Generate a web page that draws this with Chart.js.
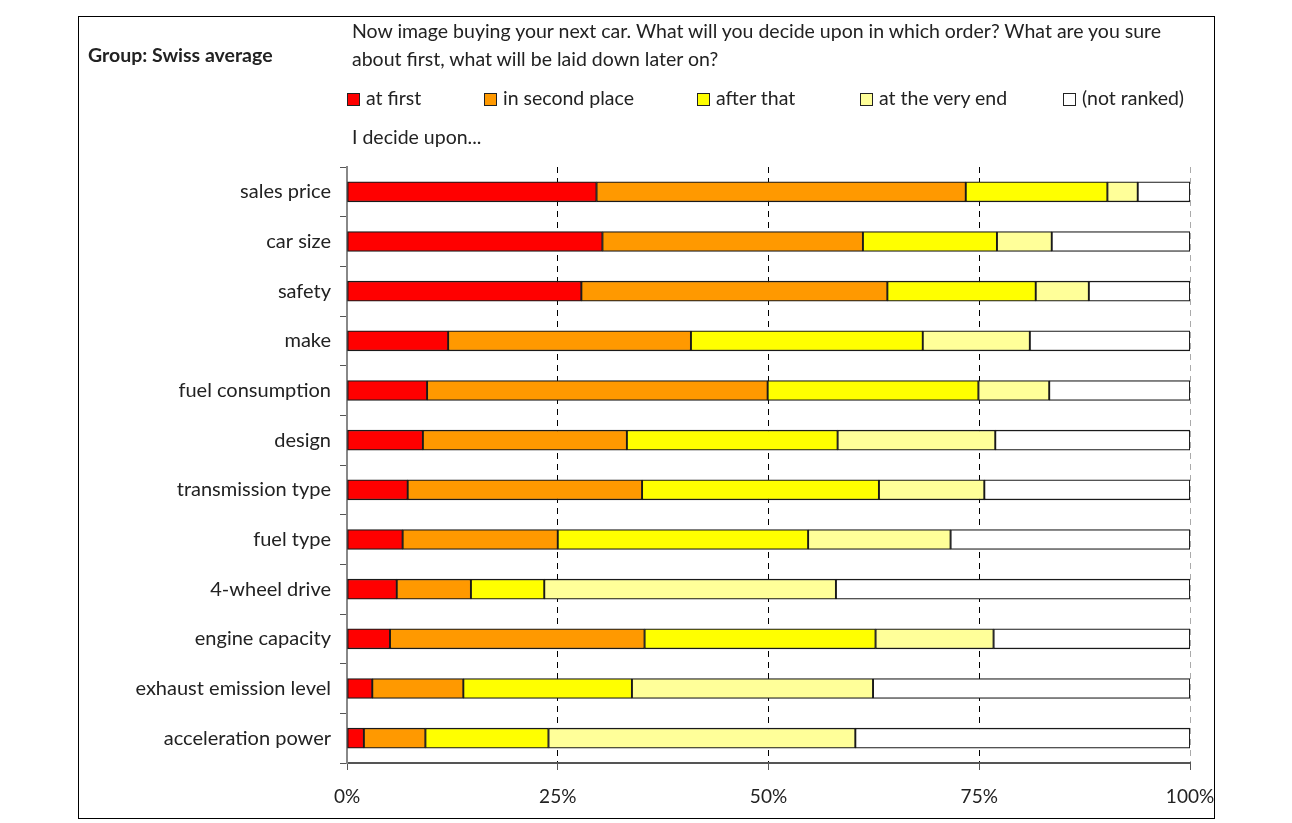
<!DOCTYPE html>
<html>
<head>
<meta charset="utf-8">
<script src="https://cdn.jsdelivr.net/npm/chart.js@4"></script>
<style>
    body { margin: 0; background: #fff; font-family: Lato, sans-serif; color: #222; }
    #frame { position: absolute; left: 78px; top: 16px; width: 1135px; height: 801px; border: 1px solid #000; }
    #chart { position: absolute; left: 0; top: 0; }
    .txt { position: absolute; font-size: 19.5px; line-height: 28px; white-space: nowrap; }
    #group { left: 88px; top: 41px; font-weight: bold; }
    #question { left: 352px; top: 17px; }
    #decide { left: 352px; top: 123px; }
    .leg { position: absolute; top: 84px; font-size: 19.5px; line-height: 28px; white-space: nowrap; }
    .leg span { display: inline-block; width: 11px; height: 11px; border: 1px solid #222; margin-right: 6px; vertical-align: -1px; }
</style>
</head>
<body>
<div id="frame"></div>
<canvas id="chart" width="1292" height="823"></canvas>
<div class="txt" id="group">Group: Swiss average</div>
<div class="txt" id="question">Now image buying your next car. What will you decide upon in which order? What are you sure<br>about first, what will be laid down later on?</div>
<div class="txt" id="decide">I decide upon...</div>
<div id="legend"></div>
<script>
    // valeurs (en %)
    var categories = ['sales price', 'car size', 'safety', 'make', 'fuel consumption', 'design',
        'transmission type', 'fuel type', '4-wheel drive', 'engine capacity', 'exhaust emission level', 'acceleration power'];
    var atFirst = [29.6, 30.3, 27.8, 12.0, 9.5, 9.0, 7.2, 6.6, 5.9, 5.1, 3.0, 2.0];
    var secondPlace = [43.8, 30.9, 36.3, 28.8, 40.4, 24.2, 27.8, 18.4, 8.8, 30.2, 10.8, 7.3];
    var afterThat = [16.8, 15.9, 17.6, 27.5, 25.0, 25.0, 28.1, 29.7, 8.7, 27.4, 20.0, 14.6];
    var veryEnd = [3.6, 6.5, 6.3, 12.7, 8.4, 18.7, 12.5, 16.9, 34.6, 14.0, 28.6, 36.4];
    var notRanked = [6.2, 16.4, 12.0, 19.0, 16.7, 23.1, 24.4, 28.4, 42.0, 23.3, 37.6, 39.7];
    var seriesNames = ['at first', 'in second place', 'after that', 'at the very end', '(not ranked)'];
    var xTicks = [0, 25, 50, 75, 100];

    var colors = ['#ff0000', '#ff9900', '#ffff00', '#ffff99', '#ffffff'];
    var legendLeft = [347, 484, 697, 860, 1063];

    var series = [atFirst, secondPlace, afterThat, veryEnd, notRanked];
    var datasets = series.map(function (values, i) {
        return {
            label: seriesNames[i],
            data: values,
            backgroundColor: colors[i],
            borderColor: '#1a1a1a',
            borderWidth: 1.3,
            borderSkipped: false,
            barThickness: 20
        };
    });

    // légende en HTML, placée comme dans l'original
    var legend = document.getElementById('legend');
    seriesNames.forEach(function (name, i) {
        var item = document.createElement('div');
        item.className = 'leg';
        item.style.left = legendLeft[i] + 'px';
        item.innerHTML = '<span style="background:' + colors[i] + '"></span>' + name;
        legend.appendChild(item);
    });

    new Chart('chart', {
        type: 'bar',
        data: { labels: categories, datasets: datasets },
        options: {
            indexAxis: 'y',
            responsive: false,
            animation: false,
            layout: { padding: { left: 0, top: 167, right: 102, bottom: 12 } },
            plugins: { legend: { display: false }, tooltip: { enabled: false } },
            scales: {
                x: {
                    stacked: true,
                    min: 0,
                    max: 100,
                    afterBuildTicks: function (scale) {
                        scale.ticks = xTicks.map(function (v) { return { value: v }; });
                    },
                    afterFit: function (scale) { scale.height = 48; },
                    ticks: {
                        callback: function (v) { return v + '%'; },
                        font: { family: 'Lato', size: 19 },
                        color: '#222',
                        padding: 15,
                        maxRotation: 0
                    },
                    grid: {
                        color: function (ctx) {
                            if (ctx.tick && ctx.tick.value === 0) return 'rgba(0,0,0,0)';
                            if (ctx.tick && ctx.tick.value === 100) return '#aaa';
                            return '#000';
                        },
                        tickColor: '#555',
                        tickLength: 7,
                        tickBorderDash: [],
                        lineWidth: 1
                    },
                    border: { display: true, color: '#555', width: 2, dash: [6, 5] }
                },
                y: {
                    stacked: true,
                    afterFit: function (scale) { scale.width = 347; },
                    ticks: {
                        font: { family: 'Lato', size: 20 },
                        color: '#222',
                        padding: 9
                    },
                    grid: {
                        drawOnChartArea: false,
                        tickLength: 7,
                        color: '#555'
                    },
                    border: { display: true, color: '#888', width: 2 }
                }
            }
        }
    });
</script>
</body>
</html>
